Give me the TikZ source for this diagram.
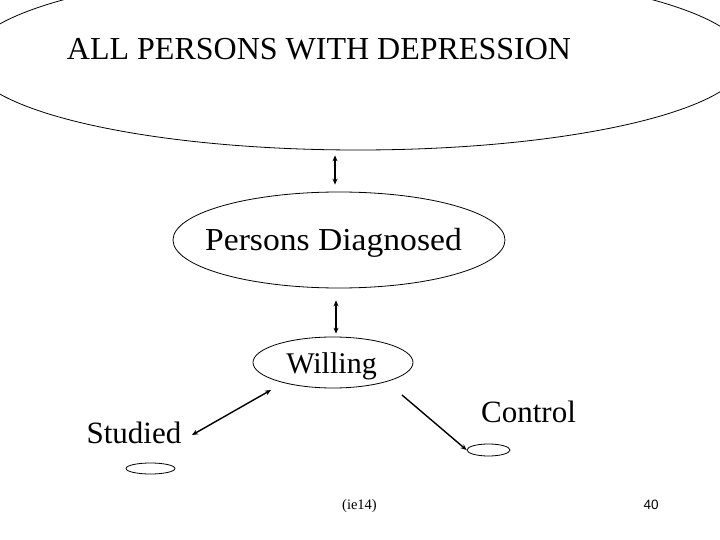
\documentclass[tikz,border=0pt]{standalone}
\usepackage{fontspec}
\setmainfont{Liberation Serif}
\newfontfamily\arialfont{Liberation Sans}
\usetikzlibrary{shapes.geometric,arrows.meta}
\tikzset{
  oval/.style={draw=black, line width=0.8pt, ellipse, inner sep=0pt},
  lbl/.style={inner sep=0pt, anchor=base, font=\fontsize{32}{38}\selectfont},
  dbl/.style={line width=1.4pt, {Stealth[length=6pt,width=5pt]}-{Stealth[length=6pt,width=5pt]}},
  sgl/.style={line width=1.4pt, -{Stealth[length=6pt,width=5pt]}},
}
\begin{document}
\begin{tikzpicture}[x=1pt,y=-1pt]
\useasboundingbox (0,0) rectangle (720,540);
\fill[white] (0,0) rectangle (720,540);
\begin{scope}
\clip (0,0) rectangle (720,540);
\node[oval, minimum width=776pt, minimum height=182pt] (all) at (358,59) {};
\end{scope}
\node[lbl] (alltxt) at (319,60) {ALL PERSONS WITH DEPRESSION};
\node[oval, minimum width=332pt, minimum height=96pt] (diag) at (339,240) {};
\node[lbl, font=\fontsize{32}{38}\selectfont] (diagtxt) at (333.5,251) {\scalebox{1.05}[1]{Persons Diagnosed}};
\node[oval, minimum width=160pt, minimum height=51pt] (will) at (333,362.5) {};
\node[lbl, font=\fontsize{30}{36}\selectfont] (willtxt) at (331.5,373) {Willing};
\node[lbl, font=\fontsize{31}{36}\selectfont] (stud) at (134,443) {Studied};
\node[lbl, font=\fontsize{31}{36}\selectfont] (ctrl) at (528.5,422) {Control};
\node[oval, minimum width=49pt, minimum height=11pt] (studov) at (150.5,468.5) {};
\node[oval, minimum width=43pt, minimum height=12pt] (ctrlov) at (488.5,450) {};
\node[inner sep=0pt, anchor=base, font=\fontsize{14.5}{17}\selectfont] (ie) at (359.5,509) {(ie14)};
\node[inner sep=0pt, anchor=base, font=\arialfont\fontsize{13.5}{16}\selectfont] (pg) at (651,509) {40};
\draw[dbl] ([xshift=-23pt,yshift=-5pt]all.south) -- ([xshift=-4pt,yshift=7pt]diag.north);
\draw[dbl] ([xshift=-3pt,yshift=-12pt]diag.south) -- ([xshift=3pt,yshift=3pt]will.north);
\coordinate (sa) at (192,435);
\coordinate (sb) at (271,390);
\draw[dbl] (sa) -- (sb);
\coordinate (ca) at (402,395);
\draw[sgl] (ca) -- (ctrlov.west);
\end{tikzpicture}
\end{document}
